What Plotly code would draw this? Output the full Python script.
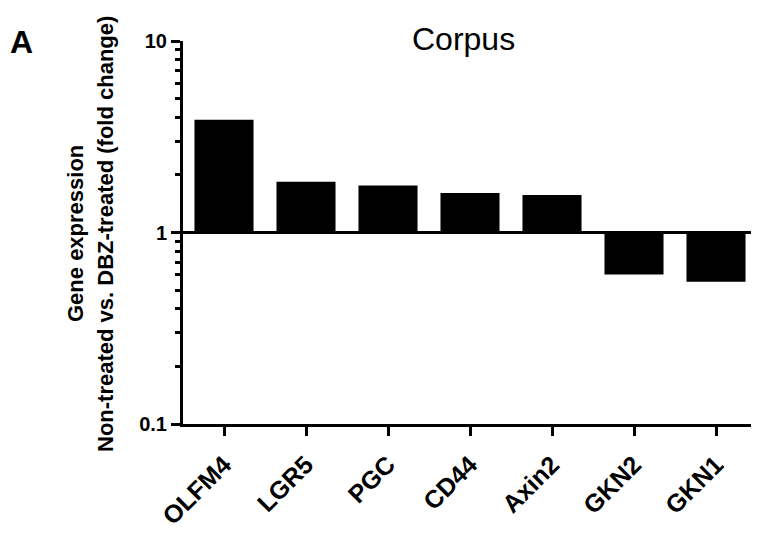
import plotly.graph_objects as go

genes = ["OLFM4", "LGR5", "PGC", "CD44", "Axin2", "GKN2", "GKN1"]
fold_change = [3.88, 1.84, 1.76, 1.61, 1.57, 0.604, 0.553]
baseline = 1.0
y_tickvals = [0.1, 1, 10]
y_ticktext = ["0.1", "1", "10"]
y_minor = [0.2, 0.3, 0.4, 0.5, 0.6, 0.7, 0.8, 0.9, 2, 3, 4, 5, 6, 7, 8, 9]

FONT = "Arial, Liberation Sans, sans-serif"

# page body has an 8px margin; plot area on screen spans x 183..757, y 41..424
def px_x(sx):
    return (sx - 183) / 574

def px_y(sy):
    return (424 - sy) / 383

fig = go.Figure()
fig.add_trace(go.Bar(
    x=genes,
    y=[v - baseline for v in fold_change],
    base=baseline,
    marker=dict(color="black", line=dict(width=0)),
    width=0.72,
    hoverinfo="skip",
))

fig.add_shape(type="line", xref="paper", yref="y", x0=0, x1=1, y0=baseline, y1=baseline,
              line=dict(color="black", width=3))

fig.update_layout(
    width=751, height=532,
    margin=dict(l=175, r=2, t=33, b=116),
    paper_bgcolor="white", plot_bgcolor="white",
    showlegend=False,
    font=dict(family=FONT, color="black"),
)

fig.update_xaxes(
    type="category",
    range=[-0.5, 6.5],
    showline=True, linecolor="black", linewidth=3,
    ticks="outside", ticklen=9, tickwidth=3, tickcolor="black",
    tickangle=-45,
    ticklabelstandoff=4,
    tickfont=dict(family=FONT, size=25, weight="bold", color="black"),
    showgrid=False, zeroline=False,
)

fig.update_yaxes(
    type="log",
    range=[-1, 1],
    tickmode="array", tickvals=y_tickvals, ticktext=y_ticktext,
    showline=True, linecolor="black", linewidth=3,
    ticks="outside", ticklen=9, tickwidth=3, tickcolor="black",
    tickfont=dict(family=FONT, size=20, weight="bold", color="black"),
    minor=dict(tickmode="array", tickvals=y_minor, ticks="outside", ticklen=5,
               tickwidth=3, tickcolor="black", showgrid=False),
    showgrid=False, zeroline=False,
)

# y-axis title (two lines)
fig.add_annotation(text="Gene expression", xref="paper", yref="paper",
                   x=px_x(75), y=px_y(234), textangle=-90, showarrow=False,
                   xanchor="center", yanchor="middle",
                   font=dict(family=FONT, size=22, weight="bold", color="black"))
fig.add_annotation(text="Non-treated vs. DBZ-treated (fold change)", xref="paper", yref="paper",
                   x=px_x(105), y=px_y(234), textangle=-90, showarrow=False,
                   xanchor="center", yanchor="middle",
                   font=dict(family=FONT, size=22, weight="bold", color="black"))

# title
fig.add_annotation(text="Corpus", xref="paper", yref="paper",
                   x=px_x(463), y=1.005, showarrow=False,
                   xanchor="center", yanchor="middle",
                   font=dict(family=FONT, size=32, color="black"))

# panel label
fig.add_annotation(text="A", xref="paper", yref="paper",
                   x=px_x(22), y=px_y(42), showarrow=False,
                   xanchor="center", yanchor="middle",
                   font=dict(family=FONT, size=32, weight="bold", color="black"))

fig.write_html("out.html")
